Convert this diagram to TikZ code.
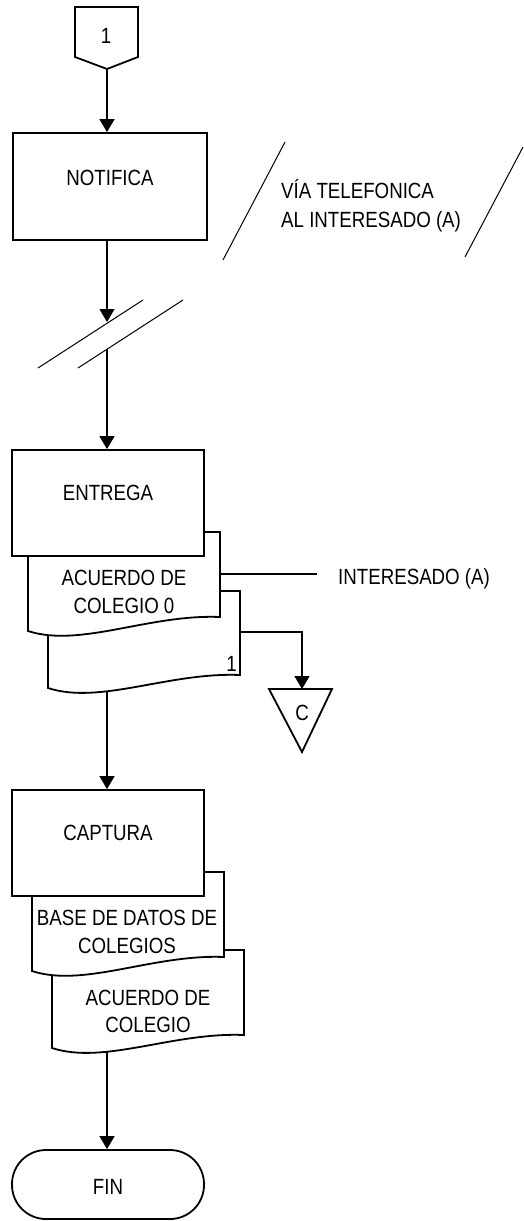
\documentclass[tikz,border=0pt]{standalone}
\usepackage{fontspec}
\setmainfont{Liberation Sans}[FakeStretch=0.85]
\usetikzlibrary{arrows.meta}

% document symbol: name, left, right, top, bottom-left y, bottom-right y
\newcommand\flowdoc[6]{%
  \draw[shapeline] (#2,#5) -- (#2,#4) -- (#3,#4) -- (#3,#6)
    .. controls ({#2+0.63*(#3-#2)},{#6-3}) and ({#2+0.27*(#3-#2)},{#5+17}) .. cycle;
  \coordinate (#1-nw) at (#2,#4);
  \coordinate (#1-se) at (#3,#6);
}

\begin{document}
\begin{tikzpicture}[x=1pt,y=-1pt,
  font=\fontsize{22}{26}\selectfont,
  shapeline/.style={line width=1.8pt, fill=white, line join=miter},
  procbox/.style={draw, line width=1.8pt, fill=white, minimum width=192pt,
    minimum height=106pt, inner sep=0pt},
  flow/.style={line width=1.3pt, -{Triangle[length=13pt,width=15pt]}},
  plainline/.style={line width=1.3pt},
  slash/.style={line width=1pt},
  lbl/.style={inner sep=0pt, anchor=base}
]
\useasboundingbox (0,0) rectangle (523,1221);

% off-page connector 1
\draw[shapeline] (75,7) -- (138,7) -- (138,57) -- (107,69) -- (75,57) -- cycle;
\coordinate (c1tip) at (107,69);
\node[lbl] (c1txt) at (106,43) {1};

% NOTIFICA
\node[procbox, minimum width=194pt, minimum height=107pt] (notifica) at (110,186.5) {};
\node[lbl] (notificatxt) at (110,185) {NOTIFICA};
\draw[flow] (c1tip) -- (c1tip |- notifica.north);

% communication medium
\draw[slash] (285,142) -- (223,260);
\draw[slash] (523,147) -- (465,257);
\node[lbl, anchor=base west] (via1) at (281,198) {VÍA TELEFONICA};
\node[lbl, anchor=base west] (via2) at (281,227) {AL INTERESADO (A)};

% time break
\coordinate (brkA) at (107,322);
\coordinate (brkB) at (107,349);
\draw[slash] (38,368) -- (143,300);
\draw[slash] (78,368) -- (183,300);
\draw[flow] (c1tip |- notifica.south) -- (brkA);

% ENTREGA with documents
\flowdoc{dB}{48}{240}{591}{688}{675}
\flowdoc{dA}{28}{220}{532}{631}{617}
\node[procbox] (entrega) at (108,503) {};
\node[lbl] (entregatxt) at (108,500) {ENTREGA};
\node[lbl] (dAtxt1) at (124,585) {ACUERDO DE};
\node[lbl] (dAtxt2) at (124,613) {COLEGIO 0};
\node[lbl, anchor=base east] (dBtxt) at (237,671) {1};
\draw[flow] (brkB) -- (brkB |- entrega.north);

% copy to interesado
\coordinate (dAout) at (220,574);
\coordinate (intEnd) at (317,574);
\draw[plainline] (dAout) -- (intEnd);
\node[lbl, anchor=base west] (interesado) at (338,584) {INTERESADO (A)};

% copy to archive C
\draw[shapeline] (269,689) -- (332,689) -- (302,752) -- cycle;
\coordinate (archTop) at (302,689);
\node[lbl] (archtxt) at (302,720) {C};
\coordinate (dBout) at (240,632);
\draw[flow] (dBout) -| (archTop);

% CAPTURA with documents
\flowdoc{dD}{52}{244}{950}{1048}{1035}
\flowdoc{dC}{32}{224}{872}{971}{957}
\node[procbox] (captura) at (108,843) {};
\node[lbl] (capturatxt) at (108,840) {CAPTURA};
\node[lbl] (dCtxt1) at (127,925) {BASE DE DATOS DE};
\node[lbl] (dCtxt2) at (127,953) {COLEGIOS};
\node[lbl] (dDtxt1) at (148,1005) {ACUERDO DE};
\node[lbl] (dDtxt2) at (148,1032) {COLEGIO};
\coordinate (dBbot) at (107,692);
\draw[flow] (dBbot) -- (dBbot |- captura.north);

% FIN
\node[draw, line width=1.8pt, rounded corners=34pt, minimum width=192pt,
  minimum height=69pt, inner sep=0pt] (fin) at (108,1184.5) {};
\node[lbl] (fintxt) at (108,1194) {FIN};
\coordinate (dDbot) at (107,1052);
\draw[flow] (dDbot) -- (dDbot |- fin.north);
\end{tikzpicture}
\end{document}
